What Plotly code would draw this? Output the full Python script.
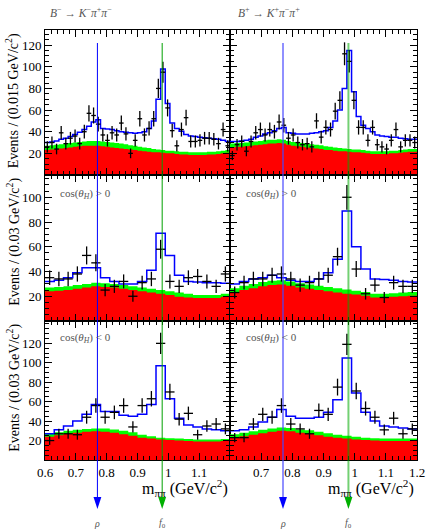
import numpy as np
import plotly.graph_objects as go
from plotly.subplots import make_subplots

# ---------------- data ----------------
x_lo, x_hi = 0.6, 1.2
nb_fine, nb_coarse = 40, 20
rho_mass = 0.77
f0_mass = 0.98

# top row: B- (left) and B+ (right), 0.015 GeV bins
tl_data = [26, 30, 24, 39, 29, 34, 36, 29, 40, 57, 55, 47, 37, 32, 39, 37, 48, 38, 20, 32,
           52, 37, 43, 52, 80, 95, 62, 41, 27, 42, 53, 31, 31, 32, 34, 34, 33, 29, 42, 27]
tl_fit = [30, 30.5, 31.5, 33, 34, 35.5, 37.5, 39.5, 42, 45, 49, 51, 43, 42.5, 42, 41, 40, 39.5, 39, 38.5,
          39, 40, 43, 50, 70, 98, 66, 48, 43, 40.5, 37.5, 36, 35.5, 35, 34.5, 34, 33.5, 33, 32, 31]
tl_red = [23, 23.5, 24, 24.5, 25, 25.5, 26, 26.5, 27, 27, 27, 27, 26.5, 26, 25.5, 25, 24.5, 24, 23.5, 23,
          22.5, 22, 21.5, 21, 21, 20.5, 20, 20, 19.5, 19, 19, 18.5, 18.5, 18.5, 18.5, 19, 19, 19.5, 20, 20.5]
tl_green = [27, 27.5, 28, 28.5, 29, 29.5, 30, 30.5, 31, 31.5, 31.5, 31.5, 31, 30.5, 30, 29.5, 29, 28.5, 27.5, 27,
            26, 25.5, 25, 24, 23.5, 23, 22.5, 22.5, 22, 21.5, 21.5, 21, 21, 21, 21, 21.5, 21.5, 22, 22.5, 23]

tr_data = [18, 28, 31, 22, 31, 39, 42, 37, 42, 40, 49, 46, 34, 37, 30, 28, 29, 26, 50, 35,
           44, 42, 59, 69, 112, 105, 69, 44, 44, 32, 44, 28, 26, 24, 32, 42, 26, 32, 32, 30]
tr_fit = [31, 31, 31.5, 32, 33, 35, 36, 38, 39, 41, 43, 44, 39, 38.5, 38, 38, 38, 38.5, 39, 40,
          41, 44, 50, 60, 80, 115, 77, 54, 46, 43, 40, 37, 36, 35.5, 35, 35, 34, 33.5, 33, 33]
tr_red = [25.5, 26, 26, 26.5, 27, 27.5, 28, 28.5, 29, 29, 29.5, 29, 28, 27, 26.5, 26, 25.5, 25, 24.5, 24,
          23, 23, 22.5, 22, 22, 21.5, 21, 21, 20.5, 20, 19.5, 19.5, 19.5, 19.5, 20, 20, 20.5, 21, 21.5, 21.5]
tr_green = [29, 29.5, 29.5, 30, 30.5, 31, 31.5, 32, 32.5, 32.5, 33, 32.5, 31.5, 30.5, 30, 29.5, 29, 28.5, 28, 27.5,
            26.5, 26, 25.5, 25, 24.5, 24, 23.5, 23.5, 23, 22.5, 22, 22, 22, 22, 22.5, 22.5, 23, 23.5, 24, 24]

# middle row: cos(theta_H) > 0, 0.03 GeV bins
ml_data = [35, 34, 34, 38, 53, 47, 25, 28, 32, 20, 31, 34, 58, 32, 28, 35, 36, 32, 28, 38]
ml_fit = [32, 33, 35, 39, 43, 43, 35, 32, 30, 30, 32, 41, 71, 53, 37, 32, 31.5, 31, 31, 30.5]
ml_red = [24, 24.5, 25, 26, 27, 28, 27.5, 27, 26, 25, 24, 23, 22, 21, 19.5, 19, 18.5, 18.5, 18.5, 19.5]
ml_green = [27, 27.5, 28, 29, 30, 31, 30.5, 30, 29, 28, 27, 26, 25, 24, 23, 22, 21, 21, 21, 22]

mr_data = [23, 31, 34, 34, 37, 38, 34, 29, 31, 34, 37, 52, 100, 42, 22, 29, 19, 31, 28, 28]
mr_fit = [30, 32, 34, 35, 37, 35, 33, 32, 32, 34, 39, 50, 89, 60, 42, 34, 33.5, 33, 32, 31.5]
mr_red = [23, 25, 26.5, 28, 29, 29.5, 28.5, 27, 26, 25, 24, 23, 22, 21.5, 20.5, 19, 19, 19.5, 20, 20.5]
mr_green = [26.5, 28.5, 30, 31.5, 32.5, 33, 32, 30.5, 29.5, 28.5, 27.5, 26.5, 25.5, 24.5, 23.5, 22, 22, 22.5, 23, 23.5]

# bottom row: cos(theta_H) < 0, 0.03 GeV bins
bl_data = [20, 27, 27, 26, 44, 56, 44, 49, 56, 34, 56, 63, 120, 70, 42, 48, 26, 35, 37, 32]
bl_fit = [27, 31, 35, 40, 47, 57, 50, 50, 46, 45, 47, 57, 97, 63, 43, 36, 34, 32, 31, 30]
bl_red = [24, 25.5, 27, 28, 29, 29.5, 29, 28, 26.5, 25, 23, 22, 21, 20.5, 20, 19.5, 19, 19, 19, 19.5]
bl_green = [27, 28.5, 30, 31, 32, 32.5, 32.5, 31.5, 30, 28.5, 26, 24.5, 23, 22.5, 22, 21.5, 21, 21, 21, 21.5]

br_data = [23, 23, 37, 47, 44, 56, 37, 32, 27, 51, 47, 75, 119, 71, 53, 44, 31, 43, 27, 32]
br_fit = [30, 31, 34, 39, 44, 52, 45, 43, 43, 44, 49, 62, 105, 69, 49, 40, 35, 34, 33, 32]
br_red = [23, 24.5, 26, 27.5, 29, 30, 29.5, 28, 27, 25.5, 24, 23, 22, 21, 20.5, 20, 19.5, 19.5, 19.5, 19.5]
br_green = [26.5, 28, 29.5, 31, 32.5, 33.5, 33, 31.5, 30.5, 29, 27.5, 26, 25, 24, 23, 22.5, 22, 22, 22, 22]

y_ranges = [[0, 134], [0, 118], [0, 143]]
y_ticks = [[20, 40, 60, 80, 100, 120], [20, 40, 60, 80, 100], [20, 40, 60, 80, 100, 120]]
y_titles = ["Events / (0.015 GeV/c<sup>2</sup>)", "Events / (0.03 GeV/c<sup>2</sup>)",
            "Events / (0.03 GeV/c<sup>2</sup>)"]
x_ticks_left = [0.6, 0.7, 0.8, 0.9, 1.0, 1.1]
x_labels_left = ["0.6", "0.7", "0.8", "0.9", "1", "1.1"]
x_ticks_right = [0.7, 0.8, 0.9, 1.0, 1.1, 1.2]
x_labels_right = ["0.7", "0.8", "0.9", "1", "1.1", "1.2"]

panels = [
    (1, 1, tl_data, tl_fit, tl_red, tl_green, nb_fine),
    (1, 2, tr_data, tr_fit, tr_red, tr_green, nb_fine),
    (2, 1, ml_data, ml_fit, ml_red, ml_green, nb_coarse),
    (2, 2, mr_data, mr_fit, mr_red, mr_green, nb_coarse),
    (3, 1, bl_data, bl_fit, bl_red, bl_green, nb_coarse),
    (3, 2, br_data, br_fit, br_red, br_green, nb_coarse),
]

# ---------------- figure ----------------
W, H = 433, 531
ml_, mr_, mt_, mb_ = 45, 8, 30, 71
plot_w = W - ml_ - mr_
plot_h = H - mt_ - mb_


def py(pix):  # pixel y (from top) -> paper
    return (H - mb_ - pix) / plot_h


def px(pix):
    return (pix - ml_) / plot_w


fig = make_subplots(rows=3, cols=2, horizontal_spacing=0, vertical_spacing=0)

FONT = "Liberation Serif, Times New Roman, serif"

for (r, c, dat, fit, red, green, nb) in panels:
    edges = np.linspace(x_lo, x_hi, nb + 1)
    bw = (x_hi - x_lo) / nb
    centers = 0.5 * (edges[:-1] + edges[1:])
    fig.add_trace(go.Scatter(x=edges, y=list(green) + [green[-1]], mode="lines", line_shape="hv",
                             line=dict(width=0, color="#00ff00"), fill="tozeroy",
                             fillcolor="#00ff00", hoverinfo="skip"), row=r, col=c)
    fig.add_trace(go.Scatter(x=edges, y=list(red) + [red[-1]], mode="lines", line_shape="hv",
                             line=dict(width=0, color="#ff0000"), fill="tozeroy",
                             fillcolor="#ff0000", hoverinfo="skip"), row=r, col=c)
    fig.add_trace(go.Scatter(x=edges, y=list(fit) + [fit[-1]], mode="lines", line_shape="hv",
                             line=dict(width=1.5, color="#0000ff"), hoverinfo="skip"), row=r, col=c)
    fig.add_trace(go.Scatter(x=centers, y=dat, mode="markers",
                             marker=dict(size=1, color="black"),
                             error_y=dict(type="data", array=np.sqrt(np.array(dat, float)),
                                          width=0, thickness=1.3, color="black"),
                             error_x=dict(type="constant", value=bw / 2, width=0,
                                          thickness=1.3, color="black")), row=r, col=c)

# domains
row_dom = [[py(175), 1.0], [py(321), py(175)], [0.0, py(321)]]
col_dom = [[0.0, px(234)], [px(234), 1.0]]

for i in range(6):
    r = i // 2
    c = i % 2
    sfx = "" if i == 0 else str(i + 1)
    bottom = (r == 2)
    fig.layout["xaxis" + sfx].update(
        domain=col_dom[c], range=[x_lo, x_hi], showline=True, linecolor="black", linewidth=1,
        mirror="allticks", ticks="inside", ticklen=7, tickcolor="black",
        tickvals=(x_ticks_left if c == 0 else x_ticks_right),
        ticktext=(x_labels_left if c == 0 else x_labels_right),
        showticklabels=bottom, showgrid=False, zeroline=False, ticklabeloverflow="allow",
        minor=dict(dtick=0.02, tick0=0.6, ticklen=4, ticks="inside", tickcolor="black"),
        tickfont=dict(family=FONT, size=13, color="black"))
    fig.layout["yaxis" + sfx].update(
        domain=row_dom[r], range=y_ranges[r], showline=True, linecolor="black", linewidth=1,
        mirror="allticks", ticks="inside", ticklen=7, tickcolor="black",
        tickvals=y_ticks[r], ticktext=[str(v) for v in y_ticks[r]],
        showticklabels=(c == 0), showgrid=False, zeroline=False,
        minor=dict(dtick=5, tick0=0, ticklen=4, ticks="inside", tickcolor="black"),
        tickfont=dict(family=FONT, size=13, color="black"))

annotations = []
shapes = []
# y titles
row_top_pix = [30, 175, 321]
for r in range(3):
    annotations.append(dict(text=y_titles[r], xref="paper", yref="paper", x=px(12),
                            y=py(row_top_pix[r] + 1), xanchor="center", yanchor="top",
                            textangle=-90, showarrow=False,
                            font=dict(family=FONT, size=14, color="black")))
# x titles
for c, xr in enumerate([234, 424]):
    annotations.append(dict(text="m<sub>ππ</sub> (GeV/c<sup>2</sup>)", xref="paper", yref="paper",
                            x=px(xr), y=py(488), xanchor="right", yanchor="middle",
                            showarrow=False, font=dict(family=FONT, size=16, color="black")))
# decay labels
for txt, xp in [("<i>B</i><sup>−</sup> → <i>K</i><sup>−</sup><i>π</i><sup>+</sup><i>π</i><sup>−</sup>", 48),
                ("<i>B</i><sup>+</sup> → <i>K</i><sup>+</sup><i>π</i><sup>−</sup><i>π</i><sup>+</sup>", 240)]:
    annotations.append(dict(text=txt, xref="paper", yref="paper", x=px(xp), y=py(12),
                            xanchor="left", yanchor="middle", showarrow=False,
                            font=dict(family=FONT, size=11.5, color="#555555")))
for txt, yp in [("cos(<i>θ</i><sub><i>H</i></sub>) > 0", 194), ("cos(<i>θ</i><sub><i>H</i></sub>) < 0", 338)]:
    for xp in [58, 248]:
        annotations.append(dict(text=txt, xref="paper", yref="paper", x=px(xp), y=py(yp),
                                xanchor="left", yanchor="middle", showarrow=False,
                                font=dict(family=FONT, size=11, color="#555555")))

# resonance lines and arrows
line_top = py(43)
arrow_tip = py(509)
arrow_base = py(497)
half_w = 4.0 / 189.0 * (x_hi - x_lo)  # half width of arrow head in data units
for c, xref in enumerate(["x", "x2"]):
    for mass, col_solid, col_line, lab in [
            (rho_mass, "#0000ff", ("#0000ff" if c == 0 else "rgba(70,70,255,0.6)"), "<i>ρ</i>"),
            (f0_mass, "#00b000", ("#00a000" if c == 0 else "rgba(0,170,0,0.55)"), "<i>f</i><sub>0</sub>")]:
        shapes.append(dict(type="line", xref=xref, yref="paper", x0=mass, x1=mass,
                           y0=line_top, y1=arrow_base, layer="above",
                           line=dict(color=col_line, width=(1 if c == 0 else 2))))
        shapes.append(dict(type="path", xref=xref, yref="paper", layer="above",
                           path=f"M {mass - half_w},{arrow_base} L {mass + half_w},{arrow_base} "
                                f"L {mass},{arrow_tip} Z",
                           fillcolor=col_solid, line=dict(width=0)))
        annotations.append(dict(text=lab, xref=xref, yref="paper", x=mass, y=py(523),
                                xanchor="center", yanchor="middle", showarrow=False,
                                font=dict(family=FONT, size=10, color="#555555")))

fig.update_layout(width=W, height=H, margin=dict(l=ml_, r=mr_, t=mt_, b=mb_),
                  plot_bgcolor="white", paper_bgcolor="white", showlegend=False,
                  annotations=annotations, shapes=shapes)

fig.write_html("out.html", config={"displayModeBar": False},
               post_script="document.body.style.margin='0';")
